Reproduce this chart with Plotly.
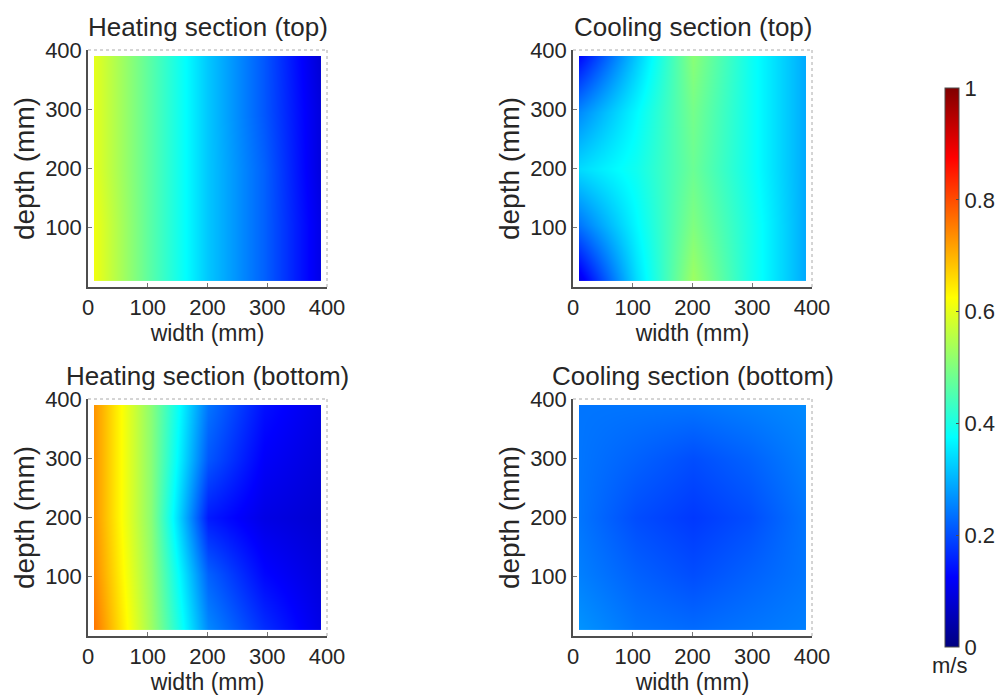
import plotly.graph_objects as go

# Measurement grid (mm)
width_mm = [10, 105, 200, 295, 390]
depth_mm = [10, 105, 200, 295, 390]

# Air velocity (m/s); rows run from depth 10 to depth 390, columns from width 10 to 390
heating_top = [
    [0.61, 0.46, 0.32, 0.22, 0.10],
    [0.61, 0.46, 0.32, 0.22, 0.10],
    [0.60, 0.46, 0.32, 0.22, 0.09],
    [0.60, 0.46, 0.32, 0.21, 0.09],
    [0.60, 0.46, 0.32, 0.21, 0.08],
]
cooling_top = [
    [0.10, 0.34, 0.53, 0.40, 0.29],
    [0.24, 0.37, 0.50, 0.40, 0.29],
    [0.34, 0.39, 0.48, 0.39, 0.29],
    [0.26, 0.37, 0.49, 0.39, 0.29],
    [0.13, 0.32, 0.51, 0.39, 0.29],
]
heating_bottom = [
    [0.76, 0.53, 0.26, 0.17, 0.10],
    [0.74, 0.52, 0.22, 0.13, 0.09],
    [0.73, 0.51, 0.15, 0.10, 0.08],
    [0.73, 0.51, 0.21, 0.12, 0.09],
    [0.73, 0.51, 0.24, 0.14, 0.10],
]
cooling_bottom = [
    [0.27, 0.24, 0.23, 0.24, 0.25],
    [0.25, 0.22, 0.20, 0.22, 0.24],
    [0.24, 0.20, 0.18, 0.20, 0.24],
    [0.24, 0.22, 0.20, 0.22, 0.25],
    [0.24, 0.24, 0.24, 0.25, 0.26],
]

panel_titles = ["Heating section (top)", "Cooling section (top)",
                "Heating section (bottom)", "Cooling section (bottom)"]
panel_data = [heating_top, cooling_top, heating_bottom, cooling_bottom]
axis_ticks = [0, 100, 200, 300, 400]
colorbar_ticks = [0, 0.2, 0.4, 0.6, 0.8, 1]
colorbar_labels = ["0", "0.2", "0.4", "0.6", "0.8", "1"]

jet = [
    [0.0, "rgb(0,0,128)"],
    [0.125, "rgb(0,0,255)"],
    [0.375, "rgb(0,255,255)"],
    [0.625, "rgb(255,255,0)"],
    [0.875, "rgb(255,0,0)"],
    [1.0, "rgb(128,0,0)"],
]

W, H = 998, 695
FONT = "Liberation Sans, Arial, sans-serif"
TEXT = "#262626"

# panel plot areas in pixels: (left, right, top, bottom)
boxes = [(88, 327, 50, 287), (573, 812, 50, 287),
         (88, 327, 399, 636), (573, 812, 399, 636)]

fig = go.Figure()
layout_axes = {}
shapes = []
annotations = []

for i, (z, title, box) in enumerate(zip(panel_data, panel_titles, boxes)):
    n = "" if i == 0 else str(i + 1)
    xname, yname = "x" + n, "y" + n
    fig.add_trace(go.Contour(
        x=width_mm, y=depth_mm, z=z,
        coloraxis="coloraxis",
        contours=dict(coloring="heatmap", showlines=False),
        line=dict(width=0),
        xaxis=xname, yaxis=yname,
        hovertemplate="width %{x} mm<br>depth %{y} mm<br>%{z:.2f} m/s<extra></extra>",
    ))
    l, r, t, b = box
    common = dict(
        range=[0, 400], showgrid=False, zeroline=False,
        showline=True, linecolor="#4d4d4d", linewidth=1.5,
        ticks="inside", ticklen=4, tickcolor="#777777",
        tickfont=dict(family=FONT, size=22, color=TEXT),
        automargin=False,
    )
    layout_axes["xaxis" + n] = dict(
        common, anchor=yname, domain=[l / W, r / W], tickvals=axis_ticks,
        ticklabelstandoff=0,
        title=dict(text="width (mm)", font=dict(family=FONT, size=23, color=TEXT), standoff=5),
    )
    layout_axes["yaxis" + n] = dict(
        common, anchor=xname, domain=[1 - b / H, 1 - t / H], tickvals=axis_ticks[1:],
        title=dict(text="depth (mm)", font=dict(family=FONT, size=28, color=TEXT), standoff=2),
    )
    # dotted top and right frame edges
    for x0, y0, x1, y1 in [(0, 1, 1, 1), (1, 0, 1, 1)]:
        shapes.append(dict(type="line", xref=xname + " domain", yref=yname + " domain",
                           x0=x0, y0=y0, x1=x1, y1=y1,
                           line=dict(color="#aaaaaa", width=1, dash="dot")))
    annotations.append(dict(
        text=title, xref=xname + " domain", yref=yname + " domain",
        x=0.5, y=1, xanchor="center", yanchor="bottom", yshift=6, showarrow=False,
        font=dict(family=FONT, size=26, color=TEXT),
    ))

# unit label under the colour bar
annotations.append(dict(
    text="m/s", xref="paper", yref="paper", x=949 / W, y=1 - 665 / H,
    xanchor="center", yanchor="middle", showarrow=False,
    font=dict(family=FONT, size=22, color=TEXT),
))

fig.update_layout(
    width=W, height=H,
    margin=dict(l=0, r=0, t=0, b=0, autoexpand=False),
    paper_bgcolor="white", plot_bgcolor="white",
    showlegend=False,
    coloraxis=dict(
        colorscale=jet, cmin=0, cmax=1,
        colorbar=dict(
            x=945 / W, xanchor="left", y=1 - 367.5 / H, yanchor="middle",
            len=559 / H, lenmode="fraction", thickness=14,
            outlinecolor="#4d4d4d", outlinewidth=1,
            tickvals=colorbar_ticks, ticktext=colorbar_labels,
            ticks="inside", ticklen=3, tickcolor="#4d4d4d",
            tickfont=dict(family=FONT, size=22, color=TEXT),
            xpad=0, ypad=0,
        ),
    ),
    shapes=shapes,
    annotations=annotations,
    **layout_axes,
)

fig.write_html("out.html")
